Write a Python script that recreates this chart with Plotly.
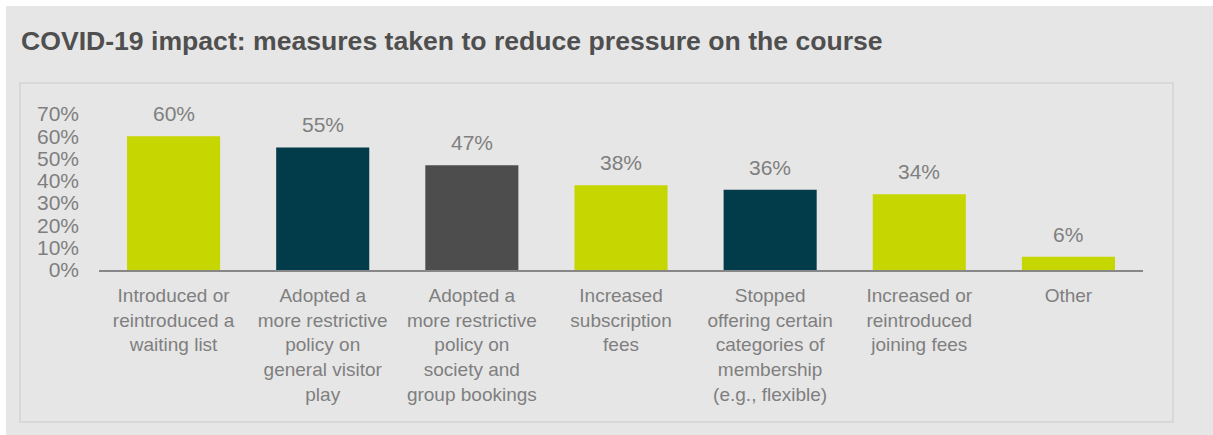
import plotly.graph_objects as go

# Survey results: share of clubs taking each measure
categories = [
    "Introduced or<br>reintroduced a<br>waiting list",
    "Adopted a<br>more restrictive<br>policy on<br>general visitor<br>play",
    "Adopted a<br>more restrictive<br>policy on<br>society and<br>group bookings",
    "Increased<br>subscription<br>fees",
    "Stopped<br>offering certain<br>categories of<br>membership<br>(e.g., flexible)",
    "Increased or<br>reintroduced<br>joining fees",
    "Other",
]
values = [0.60, 0.55, 0.47, 0.38, 0.36, 0.34, 0.06]
labels = ["60%", "55%", "47%", "38%", "36%", "34%", "6%"]
bar_colors = ["#c5d600", "#023b4a", "#4d4d4d", "#c5d600", "#023b4a", "#c5d600", "#c5d600"]
y_ticks = [0, 0.1, 0.2, 0.3, 0.4, 0.5, 0.6, 0.7]

W, H = 1213, 435
L, R, T, B = 99, 70, 114, 165
PW, PH = W - L - R, H - T - B

FONT = "Liberation Sans, Arial, sans-serif"
TEXT_GREY = "#7f7f7f"


def px_x(x):
    return (x - L) / PW


def px_y(y):
    return (H - B - y) / PH


fig = go.Figure(
    go.Bar(
        x=list(range(len(categories))),
        y=values,
        marker=dict(color=bar_colors, line=dict(width=0)),
        hoverinfo="skip",
    )
)

# value labels above bars
for i, (v, t) in enumerate(zip(values, labels)):
    fig.add_annotation(
        x=i, y=v, text=t, showarrow=False, yanchor="bottom", yshift=9,
        font=dict(family=FONT, size=21, color=TEXT_GREY),
    )

# title
fig.add_annotation(
    xref="paper", yref="paper", x=px_x(19), y=px_y(41),
    xanchor="left", yanchor="middle", showarrow=False,
    text="<b>COVID-19 impact: measures taken to reduce pressure on the course</b>",
    font=dict(family=FONT, size=26.6, color="#4f4f4f"),
)

shapes = [
    # white page edge at top and left
    dict(type="rect", xref="paper", yref="paper", x0=px_x(0), x1=px_x(W), y0=px_y(0), y1=px_y(6),
         fillcolor="white", line=dict(width=0), layer="below"),
    dict(type="rect", xref="paper", yref="paper", x0=px_x(0), x1=px_x(6), y0=px_y(0), y1=px_y(H),
         fillcolor="white", line=dict(width=0), layer="below"),
    # chart panel outline
    dict(type="rect", xref="paper", yref="paper", x0=px_x(20), x1=px_x(1173), y0=px_y(83), y1=px_y(422),
         fillcolor="rgba(0,0,0,0)", line=dict(color="#d8d8d8", width=2), layer="below"),
]

fig.update_layout(
    width=W, height=H,
    margin=dict(l=L, r=R, t=T, b=B, pad=0),
    paper_bgcolor="#e6e6e6",
    plot_bgcolor="#e6e6e6",
    bargap=0.376,
    showlegend=False,
    shapes=shapes,
    font=dict(family=FONT, color=TEXT_GREY),
    xaxis=dict(
        tickmode="array", tickvals=list(range(len(categories))), ticktext=categories,
        range=[-0.5, len(categories) - 0.5],
        showline=True, linecolor="#878787", linewidth=2,
        showgrid=False, zeroline=False, ticks="", tickangle=0,
        ticklabelstandoff=7,
        tickfont=dict(family=FONT, size=19, color=TEXT_GREY),
    ),
    yaxis=dict(
        range=[0, 0.7], tickvals=y_ticks, tickformat=".0%",
        showgrid=False, zeroline=False, showline=False, ticks="",
        ticklabelstandoff=19,
        tickfont=dict(family=FONT, size=21, color=TEXT_GREY),
    ),
)

fig.write_html("out.html")
